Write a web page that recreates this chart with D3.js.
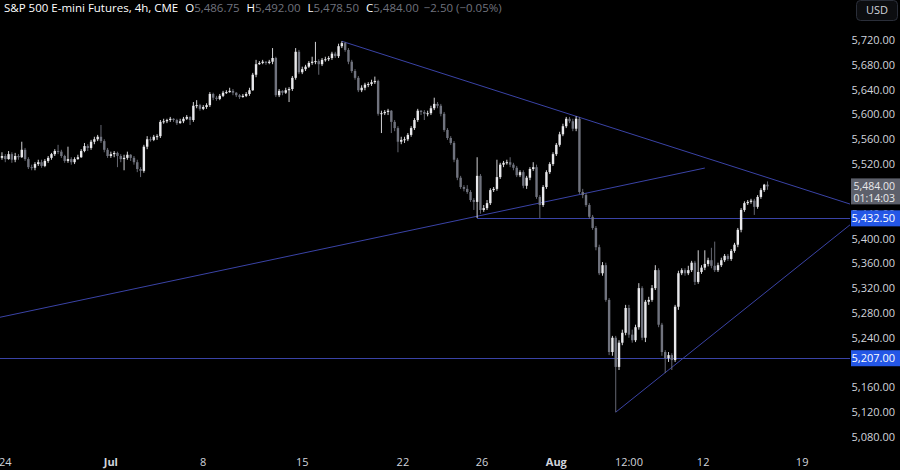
<!DOCTYPE html>
<html>
<head>
<meta charset="utf-8">
<script src="https://cdn.jsdelivr.net/npm/d3@7"></script>
<style>
  html, body { margin: 0; padding: 0; background: #000; }
  svg { display: block; font-family: "Open Sans", Roboto, sans-serif; }
</style>
</head>
<body>
<div id="chart"></div>
<script>
// 4h candles, open of each bar = previous close
var firstOpen = 5530;
var closes = [5533,5528,5536,5527,5533,5531,5543,5528,5515,5514,5520,5523,5517,5525,5530,5536,5541,5540,5533,5525,
  5528,5523,5528,5531,5541,5549,5546,5556,5560,5564,5557,5543,5533,5536,5538,5533,5528,5530,5535,5530,
  5523,5512,5509,5548,5560,5559,5564,5565,5588,5589,5591,5593,5591,5586,5589,5593,5596,5591,5614,5615,
  5609,5612,5615,5633,5627,5625,5630,5635,5636,5638,5635,5631,5628,5630,5633,5639,5664,5681,5683,5685,
  5683,5685,5691,5631,5638,5635,5639,5641,5659,5701,5668,5673,5677,5683,5685,5686,5681,5688,5689,5691,
  5698,5694,5710,5715,5704,5685,5670,5659,5639,5643,5648,5649,5652,5654,5601,5602,5604,5606,5588,5578,
  5556,5559,5560,5567,5578,5591,5606,5604,5601,5602,5610,5617,5614,5601,5575,5562,5554,5527,5498,5483,
  5480,5475,5462,5459,5501,5446,5449,5457,5478,5480,5499,5519,5522,5523,5519,5514,5502,5507,5485,5498,
  5512,5515,5467,5454,5483,5507,5520,5536,5551,5568,5581,5593,5589,5577,5593,5475,5470,5454,5435,5417,
  5386,5344,5357,5301,5217,5240,5193,5232,5248,5288,5245,5236,5257,5320,5240,5298,5301,5320,5349,5261,
  5217,5207,5212,5204,5290,5344,5349,5344,5349,5361,5330,5346,5353,5359,5365,5356,5349,5357,5365,5372,
  5367,5380,5390,5414,5446,5457,5459,5461,5451,5467,5478,5486.75,5484];
var highs = [5539,5536,5541,5539,5538,5536,5556,5546,5531,5519,5523,5527,5527,5528,5533,5538,5544,5551,5543,5535,
  5548,5531,5531,5535,5544,5554,5552,5559,5564,5567,5583,5560,5546,5540,5541,5540,5536,5535,5540,5536,
  5533,5527,5515,5551,5565,5564,5567,5568,5591,5593,5593,5596,5594,5593,5593,5596,5599,5597,5620,5623,
  5617,5615,5618,5636,5635,5630,5633,5638,5639,5643,5641,5636,5633,5633,5636,5643,5667,5688,5686,5688,
  5686,5688,5707,5693,5641,5639,5643,5644,5662,5707,5704,5677,5680,5686,5693,5717,5689,5691,5693,5694,
  5701,5701,5714,5718,5717,5707,5688,5673,5662,5647,5651,5652,5656,5661,5656,5606,5607,5609,5607,5591,
  5581,5564,5564,5570,5581,5594,5609,5607,5607,5606,5614,5627,5620,5617,5604,5578,5565,5557,5530,5501,
  5486,5486,5478,5465,5531,5504,5454,5462,5481,5483,5527,5522,5525,5527,5531,5522,5517,5510,5510,5501,
  5515,5523,5519,5470,5486,5510,5523,5539,5554,5572,5585,5596,5596,5593,5597,5596,5480,5473,5457,5438,
  5420,5390,5362,5361,5304,5243,5243,5236,5253,5293,5293,5253,5261,5328,5323,5301,5306,5325,5357,5352,
  5264,5220,5217,5215,5293,5348,5352,5352,5356,5364,5364,5381,5357,5381,5369,5385,5395,5361,5369,5375,
  5375,5383,5393,5417,5449,5460,5462,5464,5464,5470,5481,5488,5492];
var lows = [5527,5523,5527,5522,5523,5527,5530,5525,5512,5510,5510,5517,5514,5515,5522,5527,5533,5536,5530,5522,
  5522,5519,5520,5527,5530,5539,5541,5543,5552,5557,5554,5539,5530,5530,5531,5515,5523,5510,5527,5525,
  5519,5507,5499,5506,5544,5556,5557,5559,5562,5585,5586,5588,5588,5583,5585,5586,5591,5583,5588,5610,
  5606,5607,5609,5612,5623,5622,5623,5628,5633,5635,5631,5628,5625,5627,5628,5630,5638,5660,5680,5681,
  5680,5681,5681,5628,5628,5631,5633,5620,5638,5656,5665,5665,5670,5675,5680,5681,5664,5678,5685,5686,
  5688,5691,5691,5707,5701,5681,5667,5656,5636,5636,5639,5644,5646,5649,5598,5570,5599,5599,5570,5573,
  5539,5552,5554,5557,5564,5575,5588,5599,5591,5597,5599,5607,5610,5597,5572,5559,5551,5523,5494,5480,
  5476,5472,5459,5446,5433,5440,5443,5446,5454,5475,5477,5496,5515,5519,5515,5510,5499,5499,5481,5480,
  5494,5509,5464,5433,5451,5480,5504,5517,5533,5548,5565,5578,5586,5573,5573,5472,5465,5451,5432,5414,
  5381,5341,5340,5298,5212,5211,5120,5188,5228,5244,5240,5232,5233,5253,5236,5233,5293,5298,5317,5257,
  5211,5183,5201,5188,5201,5285,5341,5340,5341,5346,5325,5327,5343,5349,5355,5352,5346,5346,5354,5362,
  5364,5364,5377,5386,5410,5443,5454,5456,5438,5448,5464,5475,5478.5];

var priceTicks = [5080,5120,5160,5200,5240,5280,5320,5360,5400,5440,5480,5520,5560,5600,5640,5680,5720];
var timeTickIndex = [1, 33, 61, 91, 121.5, 145.5, 168, 190, 212.5, 242.5];
var timeTickLabels = ["24", "Jul", "8", "15", "22", "26", "Aug", "12:00", "12", "19"];
var boldTicks = ["Jul", "Aug"];

// drawn levels: [bar index, price]
var upperTrend = [[103, 5718], [174, 5597]];
var longTrend = [[-0.6, 5273], [213, 5513.6]];
var lowerTrend = [[186, 5120], [257, 5422]];
var levelA = {from: 144, price: 5432.5};
var levelB = {from: -0.6, price: 5207};

var svgWidth = 900;
var svgHeight = 470;
var plotRight = 850;

var svg = d3.select("#chart")
    .append("svg")
    .attr("width", svgWidth)
    .attr("height", svgHeight);

var x = d3.scaleLinear().domain([-0.6, 257]).range([0, plotRight]);
var y = d3.scaleLinear().domain([5080, 5720]).range([437, 40]);

var candles = closes.map(function(c, i) {
    return {i: i, o: i === 0 ? firstOpen : closes[i - 1], h: highs[i], l: lows[i], c: c};
});

var upColor = "#e9e9ec";
var downColor = "#70737e";
var lineColor = "#3a43a6";

var plot = svg.append("g");
plot.append("clipPath").attr("id", "clip")
    .append("rect").attr("x", 0).attr("y", 0).attr("width", plotRight).attr("height", 450);

// levels and trend lines
var lines = plot.append("g").attr("clip-path", "url(#clip)");
function extend(pts, toIndex) {
    var slope = (pts[1][1] - pts[0][1]) / (pts[1][0] - pts[0][0]);
    return [pts[0], [toIndex, pts[0][1] + slope * (toIndex - pts[0][0])]];
}
[extend(upperTrend, 258), longTrend, extend(lowerTrend, 258)].forEach(function(p) {
    lines.append("line")
        .attr("x1", x(p[0][0])).attr("y1", y(p[0][1]))
        .attr("x2", x(p[1][0])).attr("y2", y(p[1][1]))
        .attr("stroke", lineColor).attr("stroke-width", 1);
});
[levelA, levelB].forEach(function(l) {
    lines.append("line")
        .attr("x1", x(l.from)).attr("x2", plotRight)
        .attr("y1", Math.round(y(l.price)) + 0.5).attr("y2", Math.round(y(l.price)) + 0.5)
        .attr("stroke", lineColor).attr("stroke-width", 1);
});

// candles
var bars = plot.append("g").selectAll("g")
    .data(candles)
    .enter()
    .append("g")
    .attr("fill", d => d.c >= d.o ? upColor : downColor)
    .attr("stroke", d => d.c >= d.o ? upColor : downColor);
bars.append("line")
    .attr("x1", d => x(d.i)).attr("x2", d => x(d.i))
    .attr("y1", d => y(d.h)).attr("y2", d => y(d.l))
    .attr("stroke-width", 0.9);
bars.append("rect")
    .attr("x", d => x(d.i) - 1.2)
    .attr("width", 2.4)
    .attr("y", d => y(Math.max(d.o, d.c)))
    .attr("height", d => Math.max(1, Math.abs(y(d.o) - y(d.c))))
    .attr("stroke", "none");

// price axis (labels fully under the price boxes are not drawn)
var axisText = "#d1d4dc";
var fmt = d3.format(",.2f");
var last = candles[candles.length - 1];
var covered = [last.c, levelB.price];
svg.append("g").selectAll("text")
    .data(priceTicks.filter(p => covered.every(c => Math.abs(y(p) - y(c)) > 6)))
    .enter()
    .append("text")
    .attr("x", 895)
    .attr("y", d => y(d) + 4)
    .attr("text-anchor", "end")
    .attr("font-size", 11)
    .attr("fill", axisText)
    .text(d => fmt(d));

// last price box
var lastG = svg.append("g");
lastG.append("rect").attr("x", 851).attr("y", y(last.c) - 8).attr("width", 49).attr("height", 26)
    .attr("fill", "#5d606b");
lastG.append("text").attr("x", 895).attr("y", y(last.c) + 3.5).attr("text-anchor", "end")
    .attr("font-size", 10.5).attr("fill", "#e8e8ea").text(fmt(last.c));
lastG.append("text").attr("x", 895).attr("y", y(last.c) + 15.5).attr("text-anchor", "end")
    .attr("font-size", 10.5).attr("fill", "#e8e8ea").text("01:14:03");

// level boxes
[levelA, levelB].forEach(function(l) {
    svg.append("rect").attr("x", 851).attr("y", y(l.price) - 8).attr("width", 49).attr("height", 16)
        .attr("fill", "#2457e6");
    svg.append("text").attr("x", 895).attr("y", y(l.price) + 4).attr("text-anchor", "end")
        .attr("font-size", 11).attr("fill", "#ffffff").text(fmt(l.price));
});

// USD button
svg.append("rect").attr("x", 856.5).attr("y", 0.5).attr("width", 41).attr("height", 20).attr("rx", 4)
    .attr("fill", "#0c0d10").attr("stroke", "#2a2e39");
svg.append("text").attr("x", 877).attr("y", 14).attr("text-anchor", "middle")
    .attr("font-size", 11).attr("fill", "#d1d4dc").text("USD");

// time axis
svg.append("g").selectAll("text")
    .data(timeTickIndex)
    .enter()
    .append("text")
    .attr("x", d => x(d))
    .attr("y", 466)
    .attr("text-anchor", "middle")
    .attr("font-size", 11)
    .attr("font-weight", (d, i) => boldTicks.indexOf(timeTickLabels[i]) >= 0 ? "bold" : "normal")
    .attr("fill", axisText)
    .text((d, i) => timeTickLabels[i]);

// header
var head = svg.append("text").attr("x", 4).attr("y", 12).attr("font-size", 11.5);
head.append("tspan").attr("fill", "#ffffff").text("S&P 500 E-mini Futures, 4h, CME");
var valColor = downColor;
[["O", fmt(last.o)], ["H", fmt(last.h)], ["L", fmt(last.l)], ["C", fmt(last.c)]].forEach(function(p) {
    head.append("tspan").attr("fill", "#ffffff").attr("dx", 7).text(p[0]);
    head.append("tspan").attr("fill", valColor).text(p[1]);
});
head.append("tspan").attr("fill", valColor).attr("dx", 5)
    .text("\u22122.50 (\u22120.05%)");
</script>
</body>
</html>
